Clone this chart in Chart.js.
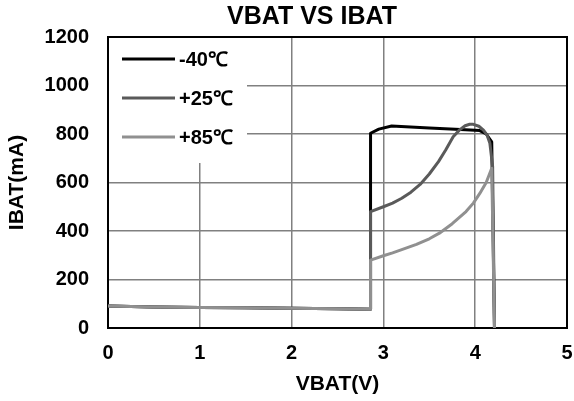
<!DOCTYPE html>
<html>
<head>
  <meta charset="UTF-8" />
  <title>VBAT VS IBAT</title>
  <script src="https://cdn.jsdelivr.net/npm/chart.js"></script>
  <style>
    html, body { margin: 0; padding: 0; background: #fff; }
    #wrap { position: relative; width: 574px; height: 401px; }
  </style>
</head>
<body>
<div id="wrap"><canvas id="myChart"></canvas></div>
<script>
  // data (VBAT in V, IBAT in mA)
  const vbatM40 = [0, 0.5, 1, 1.5, 2, 2.5, 2.86, 2.86, 2.95, 3.09, 3.5, 3.84, 4.05, 4.12, 4.18, 4.21];
  const ibatM40 = [91, 87, 85, 83, 81, 79, 77, 803, 820, 833, 825, 819, 814, 800, 768, 0];

  const vbatP25 = [0, 0.5, 1, 1.5, 2, 2.5, 2.86, 2.86, 3.0, 3.1, 3.2, 3.3, 3.4, 3.5, 3.6, 3.68, 3.76, 3.83, 3.89, 3.94, 3.98, 4.04, 4.09, 4.13, 4.16, 4.19, 4.21];
  const ibatP25 = [91, 87, 85, 83, 81, 79, 77, 480, 500, 515, 535, 560, 592, 635, 686, 735, 789, 817, 834, 840, 840, 832, 816, 795, 762, 665, 0];

  const vbatP85 = [0, 0.5, 1, 1.5, 2, 2.5, 2.86, 2.86, 3.0, 3.1, 3.2, 3.36, 3.5, 3.61, 3.75, 3.9, 3.98, 4.05, 4.12, 4.18, 4.21];
  const ibatP85 = [91, 87, 85, 83, 81, 79, 77, 280, 298, 310, 323, 345, 368, 391, 430, 480, 515, 555, 600, 659, 0];

  const seriesNames = ['-40℃', '+25℃', '+85℃'];
  const seriesColors = ['#000000', '#5a5a5a', '#909090'];

  const xTicks = [0, 1, 2, 3, 4, 5];
  const yTicks = [0, 200, 400, 600, 800, 1000, 1200];

  const FONT = '"Liberation Sans", Arial, sans-serif';

  function toPoints(xs, ys) {
    return xs.map((x, i) => ({ x: x, y: ys[i] }));
  }

  // title, white legend box and black frame, drawn over the grid
  const decorPlugin = {
    id: 'decor',
    beforeDatasetsDraw(chart) {
      const { ctx, chartArea: a } = chart;
      ctx.save();
      ctx.fillStyle = '#ffffff';
      ctx.fillRect(a.left + 1, a.top + 1, 138, 125);

      ctx.font = 'bold 20px ' + FONT;
      ctx.textBaseline = 'middle';
      ctx.textAlign = 'left';
      seriesNames.forEach((name, i) => {
        const y = a.top + 22 + i * 39;
        ctx.strokeStyle = seriesColors[i];
        ctx.lineWidth = 3;
        ctx.beginPath();
        ctx.moveTo(a.left + 14, y);
        ctx.lineTo(a.left + 67, y);
        ctx.stroke();
        ctx.fillStyle = '#000';
        ctx.fillText(name, a.left + 71, y + 1);
      });

      ctx.strokeStyle = '#000';
      ctx.lineWidth = 2;
      ctx.strokeRect(a.left, a.top, a.right - a.left, a.bottom - a.top);
      ctx.restore();
    },
    afterDraw(chart) {
      const { ctx } = chart;
      ctx.save();
      ctx.font = 'bold 25px ' + FONT;
      ctx.fillStyle = '#000';
      ctx.textAlign = 'center';
      ctx.textBaseline = 'middle';
      ctx.fillText('VBAT VS IBAT', 312, 17);
      ctx.restore();
    }
  };

  const lineStyle = (i) => ({
    label: seriesNames[i],
    borderColor: seriesColors[i],
    backgroundColor: seriesColors[i],
    borderWidth: 3,
    pointRadius: 0,
    showLine: true,
    tension: 0,
    borderJoinStyle: 'round',
    fill: false
  });

  new Chart(document.getElementById('myChart'), {
    type: 'scatter',
    data: {
      datasets: [
        Object.assign(lineStyle(0), { data: toPoints(vbatM40, ibatM40), order: 2 }),
        Object.assign(lineStyle(1), { data: toPoints(vbatP25, ibatP25), order: 1 }),
        Object.assign(lineStyle(2), { data: toPoints(vbatP85, ibatP85), order: 0 })
      ]
    },
    options: {
      responsive: true,
      maintainAspectRatio: false,
      animation: false,
      layout: { padding: { top: 37, right: 7, left: 0, bottom: 0 } },
      plugins: {
        legend: { display: false },
        title: { display: false },
        tooltip: { enabled: false }
      },
      scales: {
        x: {
          type: 'linear',
          min: 0,
          max: 5,
          afterFit: s => { s.height = 73; s.paddingLeft = 0; s.paddingRight = 0; },
          afterBuildTicks: s => { s.ticks = xTicks.map(v => ({ value: v })); },
          grid: { color: '#808080', lineWidth: 1.5, drawTicks: false },
          border: { display: false },
          ticks: { color: '#000', padding: 13, font: { family: FONT, size: 20, weight: 'bold' } },
          title: {
            display: true,
            text: 'VBAT(V)',
            color: '#000',
            padding: { top: 0, bottom: 4 },
            font: { family: FONT, size: 21, weight: 'bold' }
          }
        },
        y: {
          min: 0,
          max: 1200,
          afterFit: s => { s.width = 108; s.paddingTop = 0; s.paddingBottom = 0; },
          afterBuildTicks: s => { s.ticks = yTicks.map(v => ({ value: v })); },
          grid: { color: '#808080', lineWidth: 1.5, drawTicks: false },
          border: { display: false },
          ticks: {
            color: '#000',
            padding: 19,
            font: { family: FONT, size: 20, weight: 'bold' },
            callback: v => String(v)
          },
          title: {
            display: true,
            text: 'IBAT(mA)',
            color: '#000',
            padding: { top: 5, bottom: 0 },
            font: { family: FONT, size: 21, weight: 'bold' }
          }
        }
      }
    },
    plugins: [decorPlugin]
  });
</script>
</body>
</html>
